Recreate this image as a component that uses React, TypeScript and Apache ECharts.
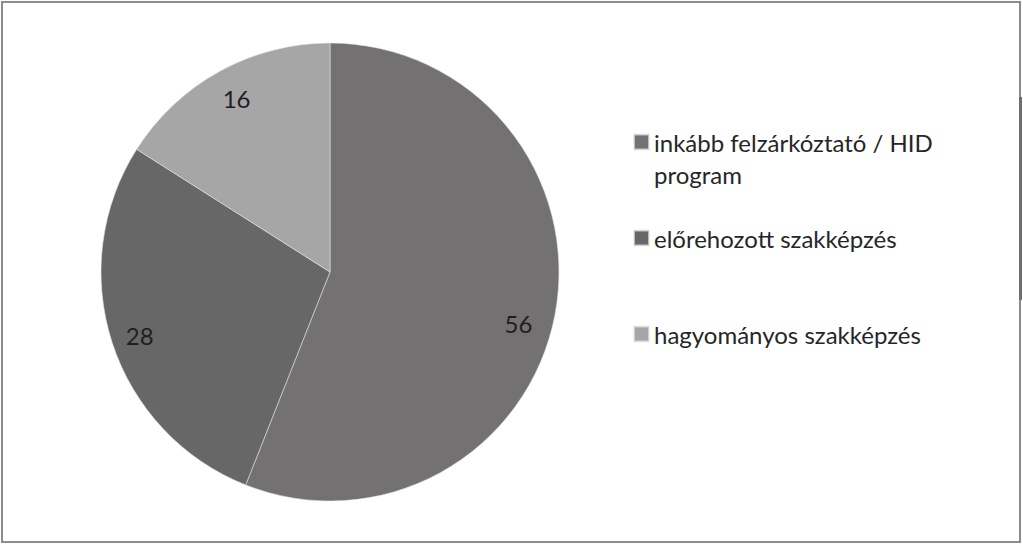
import React, { useEffect, useRef } from "react";
import * as echarts from "echarts";

const categories = [
  "inkább felzárkóztató / HID\nprogram",
  "előrehozott szakképzés",
  "hagyományos szakképzés",
];
const values = [56, 28, 16];
const colors = ["#737172", "#676767", "#a6a6a6"];
const labelOffsets = [[-6, 14], [-2, 2], [2, 0]];

const FONT = "Lato, 'Noto Sans', sans-serif";

export default function App() {
  const ref = useRef<HTMLDivElement>(null);
  useEffect(() => {
    document.body.style.margin = "0";
    const chart = echarts.init(ref.current!, null, { renderer: "svg" });
    const legendTops = [94, 222, 318];
    const legends = categories.map((name, i) => ({
      orient: "vertical",
      left: 633,
      top: legendTops[i],
      padding: 0,
      itemWidth: 15,
      itemHeight: 15,
      itemGap: 0,
      icon: "rect",
      selectedMode: false,
      formatter: i === 0 ? (n: string) => "\n" + n : "{name}",
      data: [{ name }],
      textStyle: {
        fontFamily: FONT,
        fontSize: 24,
        color: "#262626",
        lineHeight: 32,
      },
    }));
    chart.setOption({
      animation: false,
      backgroundColor: "#ffffff",
      legend: legends,
      graphic: [
        {
          type: "rect",
          shape: { x: 2, y: 2, width: 1018, height: 540 },
          style: { fill: "none", stroke: "#8c8c8c", lineWidth: 2 },
          silent: true,
        },
        {
          type: "rect",
          shape: { x: 1019, y: 97, width: 3, height: 203 },
          style: { fill: "#6e6e6e" },
          silent: true,
        },
      ],
      series: [
        {
          type: "pie",
          center: [330, 272],
          radius: 229,
          startAngle: 90,
          clockwise: true,
          silent: true,
          label: { show: false },
          labelLine: { show: false },
          itemStyle: { borderColor: "rgba(230,230,230,0.7)", borderWidth: 0.8 },
          data: categories.map((name, i) => ({
            name,
            value: values[i],
            itemStyle: { color: colors[i] },
          })),
        },
        {
          type: "pie",
          center: [330, 272],
          radius: [0, 390],
          startAngle: 90,
          clockwise: true,
          silent: true,
          z: 5,
          labelLine: { show: false },
          label: {
            show: true,
            position: "inside",
            formatter: "{c}",
            fontFamily: FONT,
            fontSize: 24,
            color: "#1f1f1f",
          },
          itemStyle: { color: "rgba(0,0,0,0)", borderWidth: 0 },
          emphasis: { disabled: true },
          data: categories.map((name, i) => ({
            name,
            value: values[i],
            label: { offset: labelOffsets[i] },
          })),
        },
      ],
    });
    return () => chart.dispose();
  }, []);
  return <div ref={ref} style={{ width: 1023, height: 544 }} />;
}
